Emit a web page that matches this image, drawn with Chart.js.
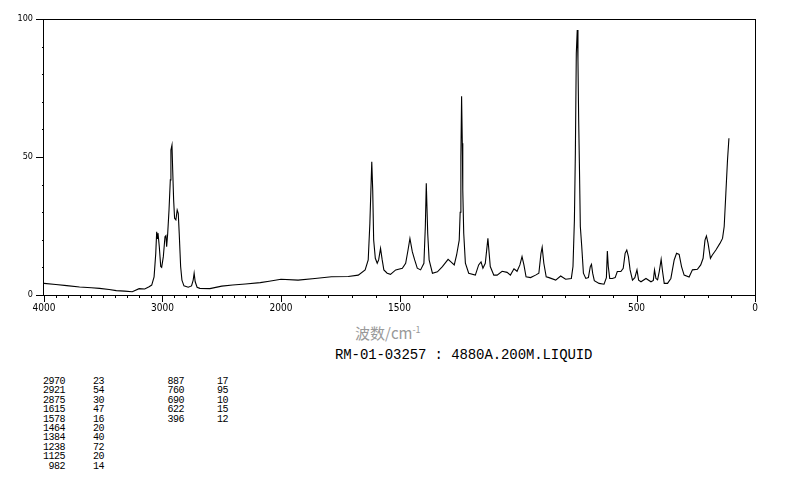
<!DOCTYPE html>
<html>
<head>
<meta charset="utf-8">
<script src="https://cdn.jsdelivr.net/npm/chart.js@4.4.1/dist/chart.umd.min.js"></script>
<style>
    body { margin: 0; background: #fff; width: 794px; height: 482px; position: relative; overflow: hidden; }
    #wrap { position: absolute; left: 0; top: 0; width: 794px; height: 320px; }
    .txt { position: absolute; white-space: nowrap; color: #000; }
    #xtitle { left: 355px; top: 322px; font: 15px "Noto Sans CJK SC", sans-serif; color: #999; }
    #xtitle sup { font-size: 9px; }
    #subtitle { left: 335px; top: 347px; font: 14px "Liberation Mono", monospace; letter-spacing: -0.1px; }
    .cell { position: absolute; font: 10px "Liberation Mono", monospace; letter-spacing: -0.5px; text-align: right; line-height: 9px; }
</style>
</head>
<body>
<div id="wrap"><canvas id="chartRaman" width="794" height="320"></canvas></div>
<div id="xtitle" class="txt">波数/cm<sup>-1</sup></div>
<div id="subtitle" class="txt">RM-01-03257 : 4880A.200M.LIQUID</div>
<div id="peaks"></div>
<script>
    // spektrum
    const waveNumbers = [
        4000, 3900, 3808, 3700, 3600, 3531, 3450, 3390, 3320, 3255,
        3197, 3150, 3113, 3091, 3071, 3057, 3049, 3044, 3038, 3027,
        3015, 3007, 2993, 2979, 2971, 2965, 2956, 2945, 2934, 2929,
        2920, 2914, 2906, 2898, 2887, 2876, 2867, 2859, 2847, 2836,
        2819, 2783, 2755, 2741, 2733, 2724, 2708, 2685, 2600, 2500,
        2408, 2300, 2175, 2100, 2000, 1928, 1857, 1787, 1716, 1674,
        1645, 1632, 1625, 1617, 1613, 1609, 1602, 1594, 1588, 1580,
        1573, 1566, 1552, 1538, 1516, 1488, 1474, 1464, 1456, 1446,
        1436, 1425, 1411, 1397, 1391, 1387, 1381, 1375, 1361, 1340,
        1319, 1295, 1283, 1269, 1259, 1248, 1244, 1241, 1238, 1235,
        1233, 1229, 1222, 1208, 1180, 1166, 1156, 1148, 1138, 1127,
        1117, 1102, 1088, 1067, 1046, 1032, 1017, 1004, 992, 983,
        975, 966, 947, 926, 912, 903, 898, 891, 881, 869,
        841, 820, 799, 775, 768, 762, 758, 754, 750, 747,
        744, 741, 737, 731, 724, 714, 703, 695, 690, 685,
        678, 658, 637, 627, 623, 619, 613, 602, 590, 581,
        566, 556, 548, 541, 534, 527, 517, 507, 498, 491,
        481, 460, 439, 429, 424, 418, 411, 404, 396, 390,
        383, 369, 355, 341, 331, 320, 310, 299, 278, 264,
        243, 229, 219, 211, 205, 198, 188, 180, 165, 148,
        137, 130, 123, 116, 110
    ];
    const intensities = [
        4.2, 3.8, 3.4, 2.9, 2.6, 2.4, 2.0, 1.6, 1.4, 1.2,
        2.3, 2.2, 3.0, 3.6, 6.6, 15.0, 22.9, 20.5, 22.4, 17.5,
        10.3, 10.0, 13.9, 21.1, 21.5, 17.5, 22.4, 30.8, 41.7, 52.5,
        54.3, 45.3, 34.4, 27.8, 27.2, 30.8, 29.6, 22.4, 10.3, 5.4,
        3.3, 2.8, 3.3, 5.4, 7.9, 4.8, 2.8, 2.4, 2.3, 3.2,
        3.6, 4.0, 4.5, 5.0, 5.7, 5.4, 6.0, 6.6, 6.7, 7.2,
        9.1, 12.7, 26.0, 48.3, 38.0, 19.9, 13.3, 11.5, 12.7, 16.9,
        12.7, 9.1, 7.9, 7.5, 9.1, 9.7, 11.5, 16.3, 20.5, 15.7,
        12.7, 9.7, 9.1, 11.5, 24.8, 40.5, 22.4, 12.7, 7.9, 8.4,
        10.3, 12.9, 12.0, 10.9, 14.5, 19.9, 30.0, 50.0, 72.0, 55.0,
        38.0, 22.4, 11.5, 7.9, 7.2, 10.9, 12.0, 9.7, 11.5, 20.5,
        10.3, 7.2, 7.2, 8.6, 8.2, 7.2, 9.5, 8.6, 10.9, 13.9,
        10.9, 6.6, 6.3, 7.2, 7.9, 15.1, 17.3, 11.5, 6.6, 6.3,
        5.4, 6.9, 5.7, 6.0, 10.3, 27.2, 51.3, 87.6, 96.0, 85.0,
        63.4, 47.7, 24.8, 17.5, 7.9, 6.0, 6.3, 10.3, 11.1, 7.9,
        5.2, 4.2, 3.9, 6.3, 15.9, 10.3, 6.0, 6.0, 6.3, 8.5,
        8.5, 9.7, 15.1, 16.3, 13.9, 9.1, 5.4, 6.3, 9.1, 5.4,
        4.8, 6.0, 4.8, 5.3, 9.1, 6.0, 5.5, 8.5, 12.9, 8.5,
        4.2, 4.2, 6.0, 12.7, 15.1, 14.7, 10.3, 7.2, 6.5, 9.1,
        9.3, 10.9, 13.3, 19.9, 21.4, 18.7, 13.3, 14.5, 16.3, 18.7,
        20.5, 24.8, 36.8, 48.9, 56.8
    ];

    const xTickLabels = [4000, 3000, 2000, 1500, 500, 0];
    const yTickLabels = [0, 50, 100];

    // tabel puncak
    const peakWaves = [2970, 2921, 2875, 1615, 1578, 1464, 1384, 1238, 1125, 982, 887, 760, 690, 622, 396];
    const peakValues = [23, 54, 30, 47, 16, 20, 40, 72, 20, 14, 17, 95, 10, 15, 12];

    // sumbu x dipadatkan di atas 2000 cm-1
    const toAxis = (w) => (w <= 2000 ? w : 2000 + (w - 2000) / 2);
    const fromAxis = (u) => (u <= 2000 ? u : 2000 + (u - 2000) * 2);

    const axisFont = { family: "'Liberation Sans Narrow', 'DejaVu Sans Condensed', sans-serif", size: 10 };

    const frameTicks = {
        id: 'frameTicks',
        afterDraw(chart) {
            const { ctx, chartArea: a, scales } = chart;
            ctx.save();
            ctx.strokeStyle = '#000';
            ctx.lineWidth = 1;
            ctx.strokeRect(a.left - 0.5, a.top + 0.5, a.right - a.left + 1, a.bottom - a.top);
            ctx.beginPath();
            for (let w = 0; w <= 4000; w += 100) {
                const px = Math.round(scales.x.getPixelForValue(toAxis(w))) + 0.5;
                const len = xTickLabels.indexOf(w) >= 0 ? 7 : 3;
                ctx.moveTo(px, a.bottom);
                ctx.lineTo(px, a.bottom + len);
            }
            for (let v = 0; v <= 100; v += 10) {
                const py = Math.round(scales.y.getPixelForValue(v)) + 0.5;
                const len = yTickLabels.indexOf(v) >= 0 ? 8 : 2;
                ctx.moveTo(a.left - len, py);
                ctx.lineTo(a.left, py);
            }
            ctx.stroke();
            ctx.restore();
        }
    };

    const points = waveNumbers.map((w, i) => ({ x: toAxis(w), y: intensities[i] }));

    new Chart(document.getElementById('chartRaman'), {
        type: 'line',
        data: {
            datasets: [{
                data: points,
                borderColor: '#000',
                borderWidth: 1.1,
                pointRadius: 0,
                tension: 0,
                fill: false,
            }, ],
        },
        options: {
            responsive: false,
            animation: false,
            devicePixelRatio: 1,
            layout: { padding: { left: 0, top: 19, right: 39, bottom: 0 } },
            plugins: { legend: { display: false }, tooltip: { enabled: false } },
            scales: {
                x: {
                    type: 'linear',
                    min: 0,
                    max: 3000,
                    reverse: true,
                    grid: { display: false, drawTicks: false },
                    border: { display: false },
                    afterBuildTicks: (s) => {
                        s.ticks = xTickLabels.map((w) => ({ value: toAxis(w) }));
                    },
                    afterFit: (s) => { s.height = 25; },
                    ticks: {
                        autoSkip: false,
                        maxRotation: 0,
                        padding: 7,
                        color: '#000',
                        font: axisFont,
                        callback: (v) => String(Math.round(fromAxis(v))),
                    },
                },
                y: {
                    min: 0,
                    max: 100,
                    grid: { display: false, drawTicks: false },
                    border: { display: false },
                    afterBuildTicks: (s) => {
                        s.ticks = yTickLabels.map((v) => ({ value: v }));
                    },
                    afterFit: (s) => { s.width = 44; },
                    ticks: {
                        padding: 11,
                        color: '#000',
                        font: { family: axisFont.family, size: 9 },
                    },
                },
            },
        },
        plugins: [frameTicks],
    });

    // isi tabel puncak
    const peaksBox = document.getElementById('peaks');
    const colRight = [65, 104, 184, 228];
    peakWaves.forEach((w, i) => {
        const col = i < 10 ? 0 : 2;
        const row = i < 10 ? i : i - 10;
        [w, peakValues[i]].forEach((val, k) => {
            const d = document.createElement('div');
            d.className = 'cell';
            d.textContent = val;
            d.style.right = (794 - colRight[col + k]) + 'px';
            d.style.top = (377 + row * 9.4) + 'px';
            peaksBox.appendChild(d);
        });
    });
</script>
</body>
</html>
